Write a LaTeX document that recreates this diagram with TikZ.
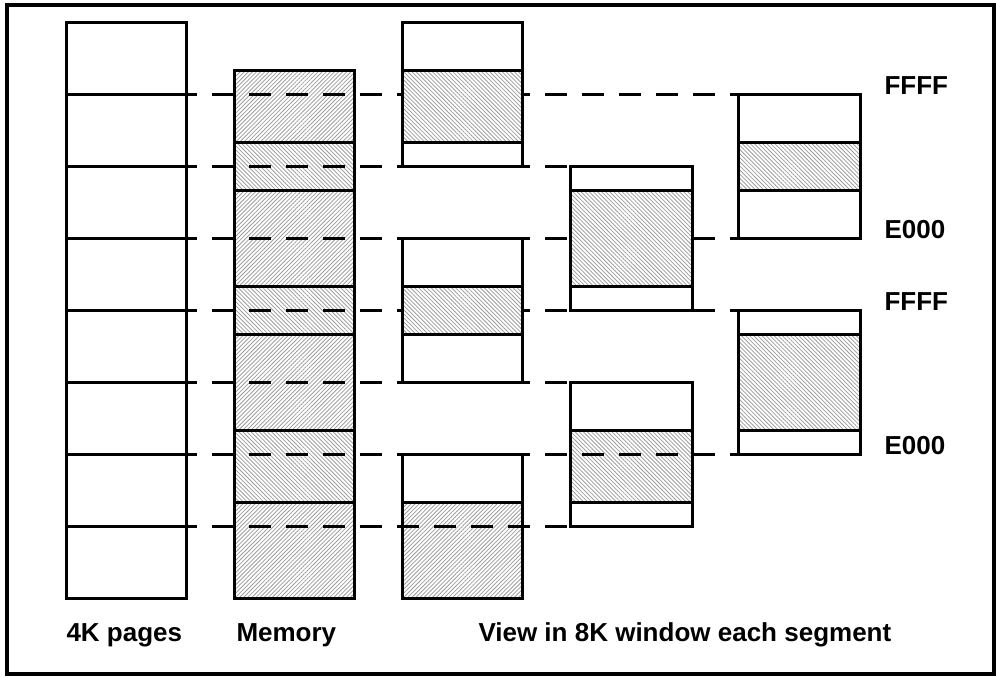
\documentclass[tikz,border=0pt]{standalone}
\usepackage{fontspec}
\setmainfont{Liberation Sans}
\usetikzlibrary{patterns.meta}

\begin{document}
\begin{tikzpicture}[x=0.5pt,y=-0.5pt,line width=1.5pt,
  hatch/.style={pattern={Lines[angle=#1,distance=1.45pt,line width=0.4pt]},pattern color=black!38},
  dsh/.style={dash pattern=on 11pt off 7.5pt,dash phase=5.5pt},
  lbl/.style={font=\fontsize{13}{15}\selectfont\bfseries,anchor=base west,inner sep=0pt}]
\useasboundingbox (0,0) rectangle (996,677);
\draw[line width=1.75pt] (7,5) rectangle (994,674);
% 4K pages
\draw (66,22) rectangle (186,598);
\foreach \y in {94,166,...,526} {
   \draw (66,\y) -- (186,\y);
}
% memory segments
\foreach \t/\b/\a in %
{70/142/45,142/190/-45,190/286/45,286/334/-45,334/430/45,430/502/-45,502/598/45} {
   \fill[hatch=\a] (234,\t) rectangle (354,\b);
   \draw (234,\t) rectangle (354,\b);
}
% windows lying under the dashes
\foreach \x/\w/\t/\ht/\hb/\a in %
{402/120/454/502/598/45,570/122/382/430/502/-45} {
   \fill[white] (\x,\t) rectangle +(\w,144);
   \fill[hatch=\a] (\x,\ht) rectangle (\x+\w,\hb);
   \draw (\x,\t) rectangle +(\w,144) (\x,\ht) -- +(\w,0) (\x,\hb) -- +(\w,0);
}
% page borders carried across
\foreach \y/\e in %
{94/738,166/570,238/738,310/738,382/570,454/738,526/570} {
   \draw[dsh] (186,\y) -- (\e,\y);
}
% windows on top
\foreach \x/\w/\t/\ht/\hb/\a in %
{402/120/22/70/142/-45,402/120/238/286/334/-45,570/122/166/190/286/-45,%
738/122/94/142/190/-45,738/122/310/334/430/-45} {
   \fill[white] (\x,\t) rectangle +(\w,144);
   \fill[hatch=\a] (\x,\ht) rectangle (\x+\w,\hb);
   \draw (\x,\t) rectangle +(\w,144) (\x,\ht) -- +(\w,0) (\x,\hb) -- +(\w,0);
}
\node[lbl] (ffffa) at (883,94) {FFFF};
\node[lbl] (e000a) at (883,238) {E000};
\node[lbl] (ffffb) at (883,310) {FFFF};
\node[lbl] (e000b) at (883,454) {E000};
\node[lbl] (pages) at (65,641) {4K pages};
\node[lbl] (memory) at (235,641) {Memory};
\node[lbl] (view) at (477,641) {View in 8K window each segment};
\end{tikzpicture}
\end{document}
